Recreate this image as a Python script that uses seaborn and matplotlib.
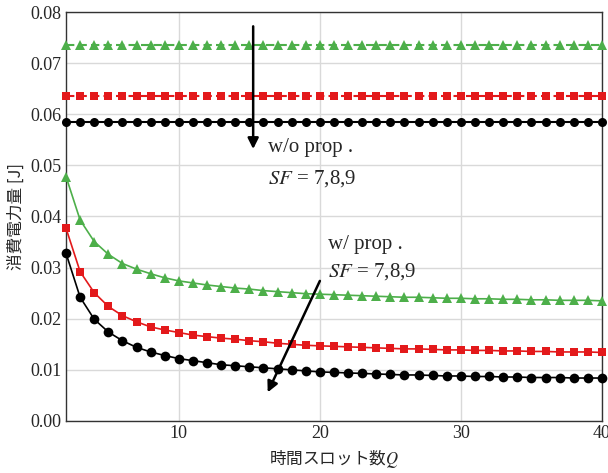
import numpy as np
import pandas as pd
import matplotlib
matplotlib.use("Agg")
import matplotlib.pyplot as plt
import seaborn as sns

Q = list(range(2, 41))

# w/o prop. (flat)
wo_sf9 = [0.0735] * len(Q)
wo_sf8 = [0.0635] * len(Q)
wo_sf7 = [0.0585] * len(Q)

# w/ prop.
w_sf9 = [0.0478, 0.0393, 0.0351, 0.0326, 0.0308, 0.0297, 0.0288, 0.0280, 0.0274,
         0.0270, 0.0266, 0.0263, 0.0260, 0.0258, 0.0255, 0.0253,
         0.0251, 0.0249, 0.0248, 0.0247, 0.0246, 0.0245, 0.0244, 0.0243, 0.0242,
         0.0242, 0.0241, 0.0240, 0.0240, 0.0239, 0.0239, 0.0238, 0.0238, 0.0237,
         0.0237, 0.0236, 0.0236, 0.0236, 0.0235]
w_sf8 = [0.0377, 0.0292, 0.0251, 0.0224, 0.0206, 0.0194, 0.0184, 0.0178, 0.0173,
         0.0168, 0.0165, 0.0162, 0.0160, 0.0157, 0.0155, 0.0152,
         0.0150, 0.0148, 0.0147, 0.0146, 0.0145, 0.0144, 0.0143, 0.0142, 0.0141,
         0.0141, 0.0140, 0.0139, 0.0139, 0.0138, 0.0138, 0.0137, 0.0137, 0.0136,
         0.0136, 0.0135, 0.0135, 0.0135, 0.0134]
w_sf7 = [0.0328, 0.0242, 0.0199, 0.0174, 0.0157, 0.0144, 0.0135, 0.0128, 0.0122,
         0.0118, 0.0114, 0.0110, 0.0108, 0.0106, 0.0104, 0.0102,
         0.0100, 0.0098, 0.0096, 0.0095, 0.0094, 0.0093, 0.0092, 0.0091, 0.0090,
         0.0090, 0.0089, 0.0088, 0.0088, 0.0087, 0.0087, 0.0086, 0.0086, 0.0085,
         0.0085, 0.0085, 0.0084, 0.0084, 0.0084]

x_ticks = [10, 20, 30, 40]
y_ticks = [0.00, 0.01, 0.02, 0.03, 0.04, 0.05, 0.06, 0.07, 0.08]

sns.set_theme(style="whitegrid")
plt.rcParams['font.family'] = ['Liberation Serif', 'Noto Sans CJK JP']
plt.rcParams['mathtext.fontset'] = 'stix'

GREEN = '#4daf4a'
RED = '#e3191b'
BLACK = '#000000'

fig = plt.figure(figsize=(6.08, 4.73), dpi=100)
ax = fig.add_axes([0.1086, 0.110, 0.8814, 0.8646])

series = [
    (wo_sf9, GREEN, '^', 6.5, (0, (4, 2)), 1.5),
    (wo_sf8, RED, 's', 5.5, (0, (4, 2)), 1.5),
    (wo_sf7, BLACK, 'o', 6.5, '-', 1.5),
    (w_sf9, GREEN, '^', 7, '-', 1.2),
    (w_sf8, RED, 's', 6, '-', 1.2),
    (w_sf7, BLACK, 'o', 7, '-', 1.2),
]
for ys, c, m, ms, ls, lw in series:
    sns.lineplot(x=Q, y=ys, ax=ax, color=c, marker=m, markersize=ms,
                 markeredgewidth=0, linestyle=ls, linewidth=lw, legend=False,
                 clip_on=False, zorder=3)

ax.set_xlim(2, 40)
ax.set_ylim(0, 0.08)
ax.set_xticks(x_ticks)
ax.set_yticks(y_ticks)
ax.set_yticklabels([f"{v:.2f}" for v in y_ticks])
ax.tick_params(labelsize=13, length=0, pad=3)
ax.grid(True, color='#d9d9d9', linewidth=1.0)
for s in ax.spines.values():
    s.set_color('#333333')
    s.set_linewidth(1.0)

ax.set_xlabel('時間スロット数$Q$', fontsize=12,
              family=['Noto Sans CJK JP', 'DejaVu Sans'], labelpad=4)
ax.set_ylabel('消費電力量 [J]', fontsize=12,
              family=['Noto Sans CJK JP', 'DejaVu Sans'], labelpad=4)

ax.annotate('', xy=(15.27, 0.0532), xytext=(15.27, 0.0772),
            arrowprops=dict(arrowstyle='-|>', color='black', lw=1.8,
                            mutation_scale=16, shrinkA=0, shrinkB=0), zorder=5)
ax.text(16.3, 0.0535, 'w/o prop .', fontsize=15, va='center', ha='left')
ax.text(16.3, 0.0475, '$SF$ = 7,8,9', fontsize=15, va='center', ha='left')

ax.annotate('', xy=(16.3, 0.0056), xytext=(20.0, 0.0274),
            arrowprops=dict(arrowstyle='-|>', color='black', lw=1.8,
                            mutation_scale=16, shrinkA=0, shrinkB=0), zorder=5)
ax.text(20.6, 0.0345, 'w/ prop .', fontsize=15, va='center', ha='left')
ax.text(20.6, 0.0293, '$SF$ = 7,8,9', fontsize=15, va='center', ha='left')

fig.savefig('out.png', dpi=100)
